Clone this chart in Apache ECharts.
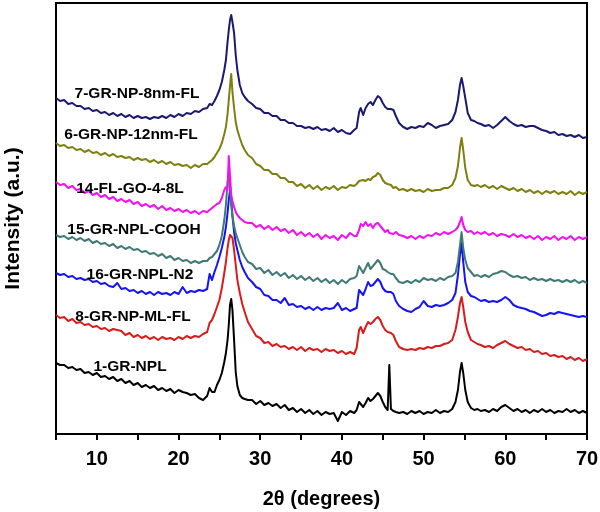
<!DOCTYPE html>
<html><head><meta charset="utf-8">
<script src="https://cdn.jsdelivr.net/npm/echarts@6/dist/echarts.min.js"></script>
<style>html,body{margin:0;padding:0;background:#fff}#c{width:600px;height:512px}</style>
</head><body><div id="c"></div>
<script>
// 2theta grid (degrees)
var twoTheta = [5,5.5,6,6.5,7,7.5,8,8.5,9,9.5,10,10.5,11,11.5,12,12.5,13,13.5,14,14.5,15,15.5,16,16.5,17,17.5,18,18.5,19,19.5,20,20.5,21,21.5,22,22.5,23,
 23.5,23.8,24.1,24.4,24.7,25,25.3,25.6,25.8,26,26.15,26.3,26.45,26.6,26.8,27,27.2,27.5,27.8,28.1,28.5,
 29,29.5,30,30.5,31,31.5,32,32.5,33,33.5,34,34.5,35,35.5,36,36.5,37,37.5,38,38.5,39,39.5,40,40.5,41,41.5,
 41.8,42.1,42.3,42.6,42.9,43.2,43.5,43.8,44.1,44.4,44.7,45,45.3,45.6,45.8,46,46.3,46.6,47,
 47.5,48,48.5,49,49.5,50,50.5,51,51.5,52,52.5,53,53.5,
 53.9,54.2,54.45,54.65,54.85,55.1,55.4,55.8,56.2,56.6,
 57,57.5,58,58.5,59,59.5,60,60.5,61,61.5,62,62.5,63,63.5,64,64.5,65,65.5,66,66.5,67,67.5,68,68.5,69,69.5,70];

// Intensity (a.u., stacked with offsets as in the figure)
var s7_GR_NP_8nm_FL = [336,333,334,330,331,328,328,325,326,323,324,321,322,319,321,318,320,317,319,316,318,316,317,315,317,316,318,316,319,317,320,318,321,320,323,322,325,
 326,330,329,333,338,344,352,364,374,392,404,414,419,412,401,379,364,349,341,337,333,
 330,326,325,321,321,318,318,314,314,311,311,308,308,306,307,305,307,304,305,303,306,302,304,301,300,304,
 306,322,326,319,326,330,332,329,334,338,336,331,327,325,324,325,324,318,311,
 307,305,307,306,308,307,311,309,306,308,309,310,314,
 322,334,349,356,348,336,321,314,313,311,
 310,308,309,306,309,313,317,313,310,308,309,307,308,308,306,304,303,301,302,299,300,298,299,297,299,296,297];

var s6_GR_NP_12nm_FL = [291,288,289,286,287,284,285,282,284,281,282,279,281,278,280,277,278,276,277,274,276,274,275,272,274,271,273,270,272,269,270,268,269,266,269,267,270,
 270,272,274,277,281,285,291,300,307,320,334,348,360,342,326,312,304,296,289,284,279,
 276,270,268,264,264,260,260,256,256,252,252,248,250,246,249,245,248,244,247,245,248,244,247,246,249,248,
 250,253,252,254,253,255,254,257,258,261,259,254,251,250,248,249,246,247,244,
 245,243,245,243,244,242,245,243,244,244,246,246,249,
 256,268,286,296,284,266,254,249,248,249,
 247,249,246,248,245,248,246,244,246,243,245,242,244,241,243,240,243,241,243,240,242,240,243,239,242,240,242];

var s14_FL_GO_4_8L = [252,249,250,246,248,244,245,241,243,239,241,237,239,235,237,233,235,232,234,230,232,228,230,227,229,225,228,224,226,223,225,222,224,221,223,220,223,
 222,224,226,228,230,231,236,244,247,244,278,259,239,233,227,222,219,216,214,212,211,
 211,207,209,205,208,204,207,203,205,201,204,199,202,198,201,197,200,195,199,196,198,194,199,196,201,198,
 198,204,210,208,212,208,210,206,210,211,208,205,202,204,201,203,200,202,199,
 198,196,198,195,198,196,199,198,201,199,202,200,202,
 204,207,212,217,209,204,202,203,200,202,
 200,202,199,201,198,200,199,197,200,197,199,196,198,195,198,194,197,195,198,194,197,195,198,194,197,195,197];

var s15_GR_NPL_COOH = [199,197,198,195,197,194,196,193,195,191,193,190,191,188,190,186,188,185,187,184,185,182,183,180,181,178,180,176,178,174,176,173,174,171,173,171,173,
 173,176,177,180,183,189,198,214,229,252,262,246,229,218,208,201,196,189,182,177,172,
 170,165,166,161,164,159,162,158,161,156,159,155,158,154,157,153,156,152,155,151,154,150,154,151,155,156,
 158,168,168,161,166,171,165,168,171,174,171,165,164,162,163,160,160,156,152,
 151,153,151,154,152,156,154,155,153,156,154,157,158,
 161,172,189,202,186,174,166,162,158,159,
 157,159,157,160,161,163,162,159,157,158,156,157,154,156,154,155,153,155,153,154,152,154,152,154,151,153,151];

var s16_GR_NPL_N2 = [161,159,160,157,158,155,156,154,155,152,153,150,151,148,147,151,145,146,143,144,141,143,140,142,139,142,140,141,139,142,140,147,141,143,142,144,143,
 145,160,154,162,169,177,186,197,207,221,234,244,234,218,202,191,184,174,167,162,156,
 152,147,145,139,138,134,134,131,136,129,130,127,128,125,127,124,127,124,126,125,126,131,124,126,123,125,
 126,144,146,139,145,152,148,149,152,155,152,146,143,142,141,142,140,133,128,
 125,123,122,125,127,133,128,127,129,128,129,131,134,
 141,159,179,191,172,152,142,138,137,135,
 133,134,132,133,132,134,137,134,129,127,126,125,123,122,120,118,119,121,120,122,121,120,119,118,117,118,117];

var s8_GR_NP_ML_FL = [119,116,117,113,115,111,112,109,110,107,108,105,106,103,105,104,103,99,101,97,99,96,98,95,97,94,97,95,96,94,97,95,98,96,98,97,100,
 102,111,114,120,127,134,146,161,172,186,194,199,201,196,184,169,154,141,130,122,112,
 105,98,96,91,92,88,90,87,88,85,87,84,87,83,86,84,85,82,85,83,84,81,83,80,82,80,
 86,104,107,101,107,112,110,112,115,117,114,108,104,102,101,101,99,93,87,
 85,84,85,84,86,85,87,86,88,88,90,91,94,
 104,117,131,137,127,112,102,94,92,90,
 89,87,88,86,89,91,93,90,88,86,87,84,85,82,83,80,81,78,79,77,78,75,77,74,76,73,75];

var s1_GR_NPL = [71,69,69,66,67,64,65,61,62,59,61,57,58,55,57,53,55,51,53,49,51,47,49,46,48,44,46,43,45,41,44,42,41,39,40,36,34,
 38,46,42,42,49,54,61,72,81,94,109,129,135,124,94,62,48,39,36,35,34,
 34,30,33,29,31,28,30,26,29,24,26,22,25,21,24,20,23,19,22,20,21,13,22,19,23,21,
 24,32,34,27,31,36,33,35,38,41,38,32,27,24,69,25,23,22,21,
 22,20,23,21,23,20,22,21,24,21,23,22,25,
 32,44,62,71,61,44,32,26,24,25,
 23,24,22,25,23,27,29,26,23,25,22,24,21,24,22,25,22,24,21,23,22,25,22,24,21,23,21];

var sampleNames = ['1-GR-NPL','8-GR-NP-ML-FL','16-GR-NPL-N2','15-GR-NPL-COOH','14-FL-GO-4-8L','6-GR-NP-12nm-FL','7-GR-NP-8nm-FL'];
var sampleValues = [s1_GR_NPL, s8_GR_NP_ML_FL, s16_GR_NPL_N2, s15_GR_NPL_COOH, s14_FL_GO_4_8L, s6_GR_NP_12nm_FL, s7_GR_NP_8nm_FL];
var sampleColors = ['#000000','#d81c1c','#1414f5','#3f7a74','#f010f0','#7f7f10','#1a1a70'];
var xTicks = [10,20,30,40,50,60,70];

// label anchor positions (pixels)
var labelPos = [[130,367],[133,317],[140,275],[134,230],[130,189],[131,135],[137,94]];

var FONT = '"Liberation Sans", Arial, sans-serif';
var chart = echarts.init(document.getElementById('c'), null, {renderer:'canvas'});
var series = sampleValues.map(function(vals, i){
  return {
    name: sampleNames[i], type:'line', symbol:'none', smooth:false, animation:false,
    lineStyle:{color:sampleColors[i], width:2, join:'round'}, itemStyle:{color:sampleColors[i]},
    data: vals.map(function(v, k){ return [twoTheta[k], v]; })
  };
});
var graphics = sampleNames.map(function(n, i){
  return {type:'text', x:labelPos[i][0], y:labelPos[i][1], z:100,
    style:{text:n, fill:'#000', font:'bold 15.5px ' + FONT, textAlign:'center', textVerticalAlign:'middle'}};
});
chart.setOption({
  animation:false,
  backgroundColor:'#fff',
  grid:{left:56, top:3, right:13, bottom:78, outerBoundsMode:'none', containLabel:false,
    show:true, borderColor:'#000', borderWidth:2, backgroundColor:'transparent'},
  xAxis:{type:'value', min:5, max:70, interval:5,
    name:'2\u03b8 (degrees)', nameLocation:'middle', nameGap:55,
    nameTextStyle:{fontFamily:FONT, fontWeight:'bold', fontSize:20, color:'#000'},
    axisLine:{show:true, onZero:false, lineStyle:{color:'#000', width:2}},
    axisTick:{show:true, inside:false, length:6, lineStyle:{color:'#000', width:2}},
    axisLabel:{margin:15, fontFamily:FONT, fontWeight:'bold', fontSize:20, color:'#000',
      formatter:function(v){ return xTicks.indexOf(v) >= 0 ? String(v) : ''; }},
    splitLine:{show:false}},
  yAxis:{type:'value', min:0, max:431,
    name:'Intensity (a.u.)', nameLocation:'middle', nameGap:32, nameRotate:90,
    nameTextStyle:{fontFamily:FONT, fontWeight:'bold', fontSize:21, color:'#000'},
    axisLine:{show:true, lineStyle:{color:'#000', width:2}},
    axisTick:{show:false}, axisLabel:{show:false}, splitLine:{show:false}},
  graphic: graphics,
  series: series
});
</script></body></html>
